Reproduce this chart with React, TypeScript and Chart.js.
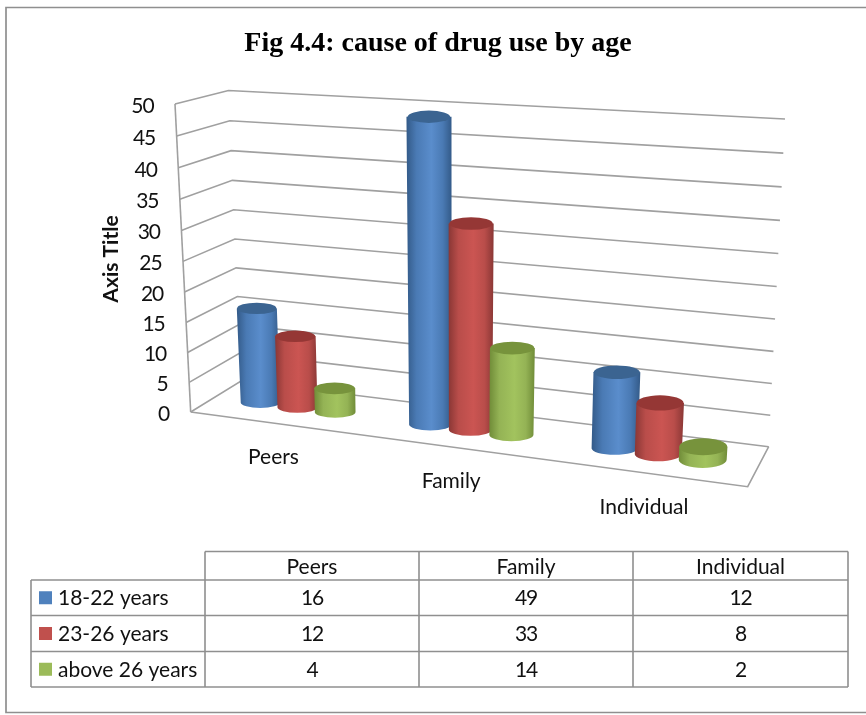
import React, { useEffect, useRef } from "react";
import { Chart, registerables } from "chart.js";

Chart.register(...registerables);

const categories = ["Peers", "Family", "Individual"];
const seriesNames = ["18-22 years", "23-26 years", "above 26 years"];
const youngest = [16, 49, 12];
const middle = [12, 33, 8];
const oldest = [4, 14, 2];
const seriesValues = [youngest, middle, oldest];
const yTicks = { min: 0, max: 50, stepSize: 5 };
const chartTitle = "Fig 4.4: cause of drug use by age";
const axisTitle = "Axis Title";
const bodyColors = [
  ["#335a88", "#4a7ab4", "#5a8dcc"],
  ["#8a3735", "#b94d4a", "#cb5552"],
  ["#708c38", "#94b355", "#a2c35e"],
];
const capColors = ["#3b6491", "#953735", "#77933c"];
const swatchColors = ["#4f81bd", "#c0504d", "#9bbb59"];

type Pt = [number, number];
// corners of the 3D box on screen: [u][value][depth]
const C: Record<string, Pt> = {
  "000": [190.7, 412], "010": [175, 104], "001": [241, 381], "011": [228.5, 90.5],
  "100": [747.7, 486.7], "110": [767, 141], "101": [768.7, 446.7], "111": [785, 119],
};
const K = 1.13;
const M = 1.045;
const warp = (u: number) => u / (u + K * (1 - u));
const warpV = (v: number) => v / (v + M * (1 - v));
const lerp = (a: number, b: number, t: number) => a + (b - a) * t;
function project(uRaw: number, vRaw: number, d: number): Pt {
  const u = warp(uRaw);
  const v = warpV(vRaw);
  const at = (i: 0 | 1) => {
    const c = (k: string) => C[k][i];
    const a = lerp(lerp(c("000"), c("001"), d), lerp(c("010"), c("011"), d), v);
    const b = lerp(lerp(c("100"), c("101"), d), lerp(c("110"), c("111"), d), v);
    return lerp(a, b, u);
  };
  return [at(0), at(1)];
}

const BODY_FONT = "Lato";
const LINE = "#a0a0a0";
const TEXT = "#111";

function line(ctx: CanvasRenderingContext2D, pts: Pt[], close = false) {
  ctx.beginPath();
  pts.forEach((p, i) => (i ? ctx.lineTo(p[0], p[1]) : ctx.moveTo(p[0], p[1])));
  if (close) ctx.closePath();
  ctx.stroke();
}

function digits(ctx: any, s: string, x: number, y: number) {
  ctx.letterSpacing = "-1.1px";
  ctx.fillText(s, x, y);
  ctx.letterSpacing = "0px";
}

const scene3d = {
  id: "scene3d",
  beforeDatasetsDraw(chart: any) {
    const { ctx, chartArea: A, scales } = chart;
    const y = scales.y;
    const x = scales.x;
    const U = (px: number) => (px - A.left) / (A.right - A.left);
    const V = (val: number) => (A.bottom - y.getPixelForValue(val)) / (A.bottom - A.top);
    ctx.save();

    // frame
    ctx.strokeStyle = "#8f8f8f";
    ctx.lineWidth = 1.7;
    line(ctx, [[866, 7.5], [6, 7.5], [6, 712.5], [866, 712.5]]);

    // walls and floor
    ctx.strokeStyle = LINE;
    ctx.lineWidth = 1.6;
    y.ticks.forEach((t: any) => {
      const v = V(t.value);
      line(ctx, [project(0, v, 0), project(0, v, 1), project(1, v, 1)]);
    });
    line(ctx, [project(0, 0, 0), project(0, 1, 0)]);
    line(ctx, [project(0, 0, 0), project(1, 0, 0), project(1, 0, 1)]);

    // y tick labels
    ctx.fillStyle = TEXT;
    ctx.font = `21px ${BODY_FONT}`;
    ctx.textAlign = "right";
    ctx.textBaseline = "middle";
    y.ticks.forEach((t: any) => {
      const p = project(0, V(t.value), 0);
      digits(ctx, String(t.value), p[0] - 21.5, p[1] + 2);
    });

    // category labels
    ctx.textAlign = "center";
    categories.forEach((c, i) => {
      const p = project(U(x.getPixelForValue(i)), 0, 0);
      ctx.fillText(c, p[0] - 1, p[1] + 34.5);
    });

    // axis title
    ctx.save();
    ctx.translate(111, 259);
    ctx.rotate(-Math.PI / 2);
    ctx.font = `bold 21px ${BODY_FONT}`;
    ctx.fillText(axisTitle, 0, 0);
    ctx.restore();

    // cylinders
    categories.forEach((_, i) => {
      chart.data.datasets.forEach((ds: any, s: number) => {
        const el = chart.getDatasetMeta(s).data[i];
        const uc = U(el.x);
        const hw = el.width / 2 / (A.right - A.left);
        const v = V(ds.data[i]);
        const baseL = project(uc - hw, 0, 0.5);
        const baseR = project(uc + hw, 0, 0.5);
        const topL = project(uc - hw, v, 0.5);
        const topR = project(uc + hw, v, 0.5);
        const base = project(uc, 0, 0.5);
        const top = project(uc, v, 0.5);
        const rx = (baseR[0] - baseL[0]) / 2;
        const wu = warp(uc);
        const ry = rx * (wu > 0.7 ? 0.28 + (wu - 0.7) * 0.35 : 0.29);
        const g = ctx.createLinearGradient(Math.min(topL[0], baseL[0]), 0, Math.max(topR[0], baseR[0]), 0);
        const [dark, mid, light] = bodyColors[s];
        g.addColorStop(0, dark);
        g.addColorStop(0.22, mid);
        g.addColorStop(0.55, light);
        g.addColorStop(0.8, mid);
        g.addColorStop(1, dark);
        ctx.fillStyle = g;
        ctx.beginPath();
        ctx.moveTo(topL[0], top[1]);
        ctx.lineTo(baseL[0], base[1]);
        ctx.ellipse(base[0], base[1], rx, ry, 0, Math.PI, 0, true);
        ctx.lineTo(topR[0], top[1]);
        ctx.closePath();
        ctx.fill();
        ctx.fillStyle = capColors[s];
        ctx.beginPath();
        ctx.ellipse(top[0], top[1], rx, ry, 0, 0, Math.PI * 2);
        ctx.fill();
      });
    });

    // data table
    const xs = [31, 205, 419, 633, 848];
    const ys = [551.5, 580, 615.5, 651.5, 687];
    ctx.strokeStyle = "#8f8f8f";
    ctx.lineWidth = 1.6;
    line(ctx, [[xs[1], ys[0]], [xs[4], ys[0]]]);
    ys.slice(1).forEach((yy) => line(ctx, [[xs[0], yy], [xs[4], yy]]));
    line(ctx, [[xs[0], ys[1]], [xs[0], ys[4]]]);
    xs.slice(1).forEach((xx) => line(ctx, [[xx, ys[0]], [xx, ys[4]]]));
    ctx.fillStyle = TEXT;
    ctx.font = `21px ${BODY_FONT}`;
    ctx.textBaseline = "middle";
    ctx.textAlign = "center";
    categories.forEach((c, i) => {
      ctx.fillText(c, (xs[i + 1] + xs[i + 2]) / 2, (ys[0] + ys[1]) / 2 + 1);
    });
    seriesNames.forEach((name, s) => {
      const cy = (ys[s + 1] + ys[s + 2]) / 2;
      ctx.fillStyle = swatchColors[s];
      ctx.fillRect(39, cy - 6.5, 13, 13);
      ctx.fillStyle = TEXT;
      ctx.textAlign = "left";
      ctx.fillText(name, 58, cy + 0.5);
      ctx.textAlign = "center";
      seriesValues[s].forEach((val, i) => {
        digits(ctx, String(val), (xs[i + 1] + xs[i + 2]) / 2, cy + 0.5);
      });
    });
    ctx.restore();
    return false;
  },
};

export default function App() {
  const ref = useRef<HTMLCanvasElement>(null);
  useEffect(() => {
    document.body.style.margin = "0";
    const chart = new Chart(ref.current!, {
      type: "bar",
      data: {
        labels: categories,
        datasets: seriesNames.map((name, s) => ({
          label: name,
          data: seriesValues[s],
          backgroundColor: swatchColors[s],
          categoryPercentage: 0.675,
          barPercentage: 1.07,
        })),
      },
      options: {
        animation: false,
        responsive: false,
        events: [],
        layout: { padding: { left: 10, top: 0, right: 0, bottom: 0 } },
        plugins: {
          legend: { display: false },
          tooltip: { enabled: false },
          title: {
            display: true,
            text: chartTitle,
            fullSize: false,
            color: "#000",
            font: { family: "Liberation Serif", size: 28, weight: "bold" },
            padding: { top: 27, bottom: 10 },
          },
        },
        scales: {
          x: { display: false },
          y: { display: false, min: yTicks.min, max: yTicks.max, ticks: { stepSize: yTicks.stepSize } },
        },
      },
      plugins: [scene3d],
    } as any);
    return () => chart.destroy();
  }, []);
  return <canvas ref={ref} width={866} height={715} style={{ display: "block" }} />;
}
